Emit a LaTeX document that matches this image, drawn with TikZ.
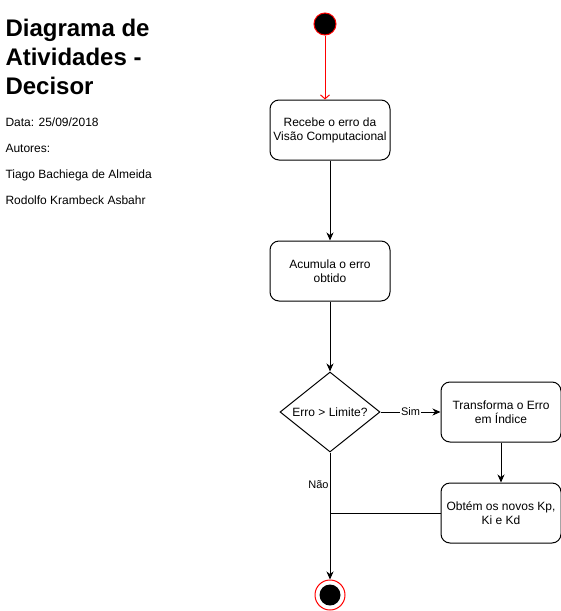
\documentclass[tikz,border=0pt]{standalone}
\usepackage{fontspec}
\setmainfont{Liberation Sans}
\usetikzlibrary{positioning,arrows.meta,shapes.geometric}

\begin{document}
\begin{tikzpicture}[
    x=1pt, y=-1pt,
    font=\fontsize{12}{14}\selectfont,
    line width=1pt,
    act/.style={
        draw,
        rounded corners=9pt,
        minimum width=120pt,
        minimum height=60pt,
        align=center
    },
    decis/.style={
        draw,
        diamond,
        aspect=1.25,
        inner sep=0pt,
        minimum width=100pt,
        minimum height=80pt
    },
    startnode/.style={circle, draw=red, fill=black, minimum size=22pt, inner sep=0pt},
    endouter/.style={circle, draw=red, fill=white, minimum size=30pt, inner sep=0pt},
    endinner/.style={circle, fill=black, minimum size=21pt, inner sep=0pt},
    arrow/.style={-{Stealth[length=8pt, width=7pt, inset=2.5pt]}},
    openarrow/.style={-{Straight Barb[length=4pt, width=9pt]}, red},
    lbl/.style={font=\fontsize{11}{13}\selectfont}
]
\useasboundingbox (0,0) rectangle (561,611);

% ============================================================
% TITULO E AUTORES
% ============================================================
\node[anchor=north west, inner sep=0pt, align=left,
      font=\fontsize{24}{29}\selectfont\bfseries] (title) at (5,19)
    {Diagrama de\\Atividades -\\Decisor};
\node[anchor=north west, inner sep=0pt, align=left,
      font=\fontsize{12}{26}\selectfont] (info) at (5,117.8)
    {Data: 25/09/2018\\Autores:\\Tiago Bachiega de Almeida\\Rodolfo Krambeck Asbahr};

% ============================================================
% FLUXO PRINCIPAL
% ============================================================
\node[startnode] (start) at (325,24) {};
\node[act] (recebe) at (330,130) {Recebe o erro da\\Visão Computacional};
\node[act, below=80pt of recebe] (acumula) {Acumula o erro\\obtido};
\node[decis, below=70pt of acumula] (dec) {Erro > Limite?};

\draw[openarrow] (start.south) -- (start.south |- recebe.north);
\draw[arrow] (recebe) -- (acumula);
\draw[arrow] (acumula) -- (dec);

% ============================================================
% RAMO "SIM"
% ============================================================
\node[act, right=60pt of dec] (transf) {Transforma o Erro\\em Índice};
\node[act, below=40pt of transf] (obtem) {Obtém os novos Kp,\\Ki e Kd};

\draw[arrow] (dec) -- node[lbl, fill=white, inner sep=1pt] {Sim} (transf);
\draw[arrow] (transf) -- (obtem);

% ============================================================
% RAMO "NAO" + FIM
% ============================================================
\node[endouter] (fim) at (330,595) {};
\node[endinner] (fimin) at (fim) {};
\coordinate (junta) at (dec.south |- obtem.west);

\draw[arrow] (dec) -- node[lbl, pos=0.25, left, inner sep=1pt] {Não} (fim);
\draw (obtem) -- (junta);

\end{tikzpicture}
\end{document}
